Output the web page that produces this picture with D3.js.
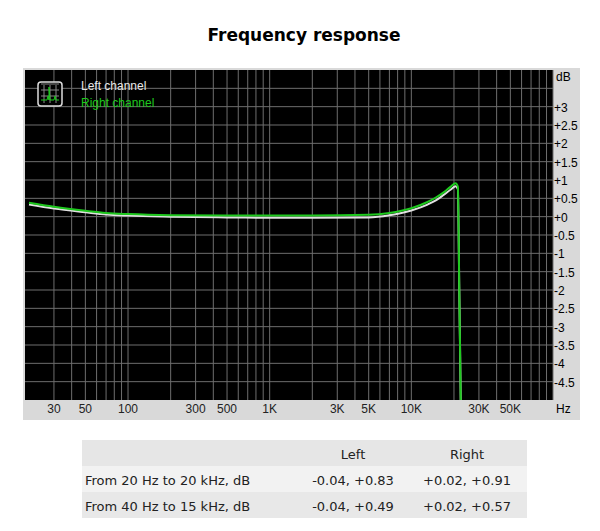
<!DOCTYPE html>
<html><head><meta charset="utf-8">
<script src="https://d3js.org/d3.v7.min.js"></script>
<style>body{margin:0;background:#fff;}</style></head>
<body><svg id="c" width="600" height="531"></svg>
<script>
const freqs = [20,30,50,70,100,200,500,1000,2000,5000,7000,10000,13000,15000,17000,19000,20500,21300,21800,22500];
const leftDb = [0.33,0.22,0.12,0.06,0.03,0.0,-0.02,-0.03,-0.03,-0.02,0.04,0.17,0.33,0.45,0.6,0.74,0.83,0.75,-2,-6];
const rightDb = [0.38,0.27,0.16,0.10,0.07,0.04,0.03,0.03,0.03,0.05,0.1,0.23,0.4,0.53,0.67,0.82,0.91,0.82,-2,-6];
const xTickVals = [30,50,100,300,500,1000,3000,5000,10000,30000,50000];
const xTickLabels = ["30","50","100","300","500","1K","3K","5K","10K","30K","50K"];
const yTickVals = [3,2.5,2,1.5,1,0.5,0,-0.5,-1,-1.5,-2,-2.5,-3,-3.5,-4,-4.5];
const rows = [["From 20 Hz to 20 kHz, dB","-0.04, +0.83","+0.02, +0.91"],["From 40 Hz to 15 kHz, dB","-0.04, +0.49","+0.02, +0.57"]];

const svg = d3.select("#c");
svg.append("text").attr("x",304).attr("y",41).attr("text-anchor","middle")
  .attr("font-family","DejaVu Sans").attr("font-weight","bold").attr("font-size",17).text("Frequency response");
svg.append("rect").attr("x",23).attr("y",68).attr("width",557).attr("height",352).attr("fill","#d9d9d9");
const x = d3.scaleLog().domain([20,100000]).range([29,553]);
const y = d3.scaleLinear().domain([-5,4]).range([400,70]);
svg.append("rect").attr("x",25).attr("y",70).attr("width",528).attr("height",330).attr("fill","#000");
const g = svg.append("g");
const gridX=[]; for(let d=10;d<=100000;d*=10) for(let m=1;m<10;m++){const v=d*m; if(v>20&&v<100000) gridX.push(v);} gridX.push(100000);
gridX.forEach(v=>g.append("line").attr("x1",x(v)).attr("x2",x(v)).attr("y1",70).attr("y2",400).attr("stroke","#6e6e6e").attr("stroke-width",1));
for(let v=-4.5;v<=3.5;v+=0.5) g.append("line").attr("x1",25).attr("x2",553).attr("y1",y(v)).attr("y2",y(v)).attr("stroke","#6e6e6e").attr("stroke-width",1);
const clip = svg.append("clipPath").attr("id","cp").append("rect").attr("x",25).attr("y",70).attr("width",528).attr("height",330);
const line = d3.line().x((d,i)=>x(freqs[i])).y(d=>y(d)).curve(d3.curveMonotoneX);
svg.append("path").attr("clip-path","url(#cp)").attr("d",line(leftDb)).attr("fill","none").attr("stroke","#e0e0e0").attr("stroke-width",2);
svg.append("path").attr("clip-path","url(#cp)").attr("d",line(rightDb)).attr("fill","none").attr("stroke","#1ec81e").attr("stroke-width",2);
const tf = "Liberation Sans";
xTickVals.forEach((v,i)=>svg.append("text").attr("x",x(v)).attr("y",413).attr("text-anchor","middle").attr("font-family",tf).attr("font-size",12).attr("fill","#222").text(xTickLabels[i]));
svg.append("text").attr("x",556).attr("y",413).attr("font-family",tf).attr("font-size",12).text("Hz");
svg.append("text").attr("x",556).attr("y",81).attr("font-family",tf).attr("font-size",12).text("dB");
yTickVals.forEach(v=>svg.append("text").attr("x",554).attr("y",y(v)+5).attr("font-family",tf).attr("font-size",12).text((v>0?"+":v===0?"+":"")+v));
// legend
svg.append("rect").attr("x",38).attr("y",82).attr("width",24).attr("height",24).attr("rx",3).attr("fill","#000").attr("stroke","#ddd").attr("stroke-width",1.5);
[44,50,56].forEach(a=>{svg.append("line").attr("x1",a).attr("x2",a).attr("y1",85).attr("y2",103).attr("stroke","#888");svg.append("line").attr("x1",41).attr("x2",59).attr("y1",a+40).attr("y2",a+40).attr("stroke","#888");});
svg.append("path").attr("d","M41,100 L47,100 L48,96 L49,100 L49,87 L50,100 L54,100 L55,96 L56,100 L59,100").attr("fill","none").attr("stroke","#1ec81e");
svg.append("text").attr("x",81).attr("y",90).attr("font-family",tf).attr("font-size",12).attr("fill","#e8e8e8").text("Left channel");
svg.append("text").attr("x",81).attr("y",107).attr("font-family",tf).attr("font-size",12).attr("fill","#1ec81e").text("Right channel");
// table
const tb = svg.append("g").attr("font-family","DejaVu Sans").attr("font-size",13).attr("fill","#222");
tb.append("rect").attr("x",82).attr("y",440).attr("width",445).attr("height",26).attr("fill","#e6e6e6");
tb.append("rect").attr("x",82).attr("y",466).attr("width",445).attr("height",26).attr("fill","#f2f2f2");
tb.append("rect").attr("x",82).attr("y",492).attr("width",445).attr("height",26).attr("fill","#e8e8e8");
tb.append("text").attr("x",353).attr("y",459).attr("text-anchor","middle").text("Left");
tb.append("text").attr("x",467).attr("y",459).attr("text-anchor","middle").text("Right");
rows.forEach((r,i)=>{const yy=485+i*26;
 tb.append("text").attr("x",85).attr("y",yy).text(r[0]);
 tb.append("text").attr("x",353).attr("y",yy).attr("text-anchor","middle").text(r[1]);
 tb.append("text").attr("x",467).attr("y",yy).attr("text-anchor","middle").text(r[2]);});
</script></body></html>
